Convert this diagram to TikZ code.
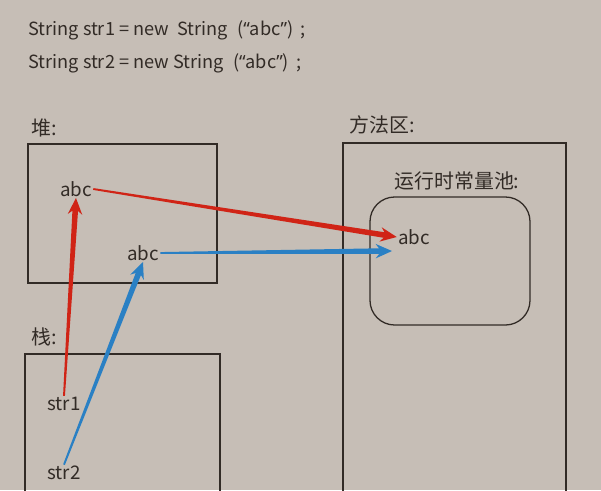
\documentclass[tikz,border=0pt]{standalone}
\usepackage{fontspec}
\setmainfont{Noto Sans CJK SC}
\newfontfamily\quotefont{Noto Sans}
\usepackage{tikz}
\usetikzlibrary{calc}

\definecolor{bgc}{RGB}{198,190,182}
\definecolor{ink}{RGB}{50,43,38}
\definecolor{redarr}{RGB}{208,36,22}
\definecolor{bluearr}{RGB}{42,128,196}

\newcommand{\qabc}{\hspace{8pt}({\quotefont “}abc{\quotefont ”})\hspace{6pt};}

% tapered arrow: colour, from, to
\newcommand{\tarrow}[3]{%
  \coordinate (tmpj) at ($(#3)!11pt!(#2)$);
  \coordinate (tmpw) at ($(#3)!14pt!(#2)$);
  \fill[#1] ($(#2)!0.8pt!90:(#3)$) -- ($(tmpj)!2.4pt!90:(#3)$) -- ($(tmpw)!6.2pt!90:(#3)$) -- (#3)
    -- ($(tmpw)!6.2pt!-90:(#3)$) -- ($(tmpj)!2.4pt!-90:(#3)$) -- ($(#2)!0.8pt!-90:(#3)$) -- cycle;}

\begin{document}
\begin{tikzpicture}[x=0.03cm, y=-0.03cm,
  every node/.style={text=ink, font=\fontsize{16}{19}\selectfont, inner sep=1pt},
  cjk/.style={font=\fontsize{17}{20}\selectfont},
  code/.style={anchor=west, font=\fontsize{15.5}{19}\selectfont},
  area/.style={draw=ink, line width=1.1pt}]
\useasboundingbox (0,0) rectangle (601,490);
\fill[bgc] (0,0) rectangle (601,490);

\node[code] (code1) at (27,30) {String str1 = new\ \ String\qabc};
\node[code] (code2) at (27,63) {String str2 = new String\qabc};

% heap
\node[anchor=west, cjk] (heaplbl) at (30,128) {堆:};
\draw[area] (28,144) rectangle (217,283);
\node (heapabc) at (76,189) {abc};
\node (heapabcb) at (143,253) {abc};

% method area
\node[anchor=west, cjk] (methodlbl) at (348,125) {方法区:};
\draw[area] (343,492) |- (566,143) -- (566,492);
\node[cjk] (poollbl) at (457,181) {运行时常量池:};
\draw[area, rounded corners=21pt] (370,197) rectangle (530,325);
\node (poolabc) at (414,237) {abc};
\coordinate (poolin) at (392,251);

% stack
\node[anchor=west, cjk] (stacklbl) at (30,337) {栈:};
\draw[area] (25,492) |- (220,354) -- (220,492);
\node (str1) at (64,404) {str1};
\node (str2) at (64,473) {str2};

\tarrow{redarr}{str1.north}{heapabc.south}
\tarrow{redarr}{heapabc.east}{poolabc.west}
\tarrow{bluearr}{str2.north}{heapabcb.south}
\tarrow{bluearr}{heapabcb.east}{poolin}
\end{tikzpicture}
\end{document}
